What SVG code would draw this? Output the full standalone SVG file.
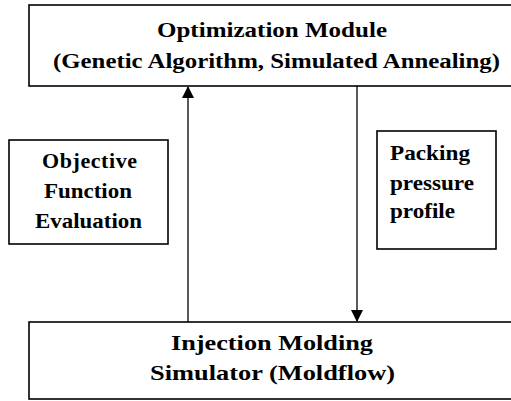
<svg xmlns="http://www.w3.org/2000/svg" width="511" height="401" viewBox="0 0 511 401">
<defs>
<style>
.box{fill:#fff;stroke:#000;stroke-width:1.6}
.t{font-family:"Liberation Serif","Times New Roman",serif;font-weight:bold;fill:#000}
.line{stroke:#000;stroke-width:1.3;fill:none}
</style>
<marker id="ah" markerWidth="12" markerHeight="12" refX="11" refY="6" orient="auto" markerUnits="userSpaceOnUse">
<path d="M0,0 L12,6 L0,12 Z" fill="#000"/>
</marker>
</defs>
<rect width="511" height="401" fill="#fff"/>
<g id="connectors">
<line class="line" x1="188" y1="322" x2="188" y2="87" marker-end="url(#ah)"/>
<line class="line" x1="357" y1="86" x2="357" y2="321" marker-end="url(#ah)"/>
</g>
<g id="optimization">
<rect class="box" x="29" y="5" width="500" height="81"/>
<text class="t" x="157" y="37" font-size="22" textLength="230" lengthAdjust="spacingAndGlyphs">Optimization Module</text>
<text class="t" x="53" y="68" font-size="20" textLength="447" lengthAdjust="spacingAndGlyphs">(Genetic Algorithm, Simulated Annealing)</text>
</g>
<g id="objective">
<rect class="box" x="9" y="140" width="159" height="104"/>
<text class="t" font-size="22" lengthAdjust="spacingAndGlyphs">
<tspan x="42" y="168" textLength="95">Objective</tspan>
</text>
<text class="t" font-size="22" x="44" y="198" textLength="88" lengthAdjust="spacingAndGlyphs">Function</text>
<text class="t" font-size="22" x="35" y="228" textLength="107" lengthAdjust="spacingAndGlyphs">Evaluation</text>
</g>
<g id="packing">
<rect class="box" x="377" y="131" width="119" height="118"/>
<text class="t" font-size="22" x="390" y="160" textLength="80" lengthAdjust="spacingAndGlyphs">Packing</text>
<text class="t" font-size="22" x="390" y="190" textLength="84" lengthAdjust="spacingAndGlyphs">pressure</text>
<text class="t" font-size="22" x="390" y="218" textLength="65" lengthAdjust="spacingAndGlyphs">profile</text>
</g>
<g id="simulator">
<rect class="box" x="29" y="322" width="500" height="77"/>
<text class="t" font-size="22" x="171" y="350" textLength="202" lengthAdjust="spacingAndGlyphs">Injection Molding</text>
<text class="t" font-size="22" x="150" y="380" textLength="245" lengthAdjust="spacingAndGlyphs">Simulator (Moldflow)</text>
</g>
</svg>
